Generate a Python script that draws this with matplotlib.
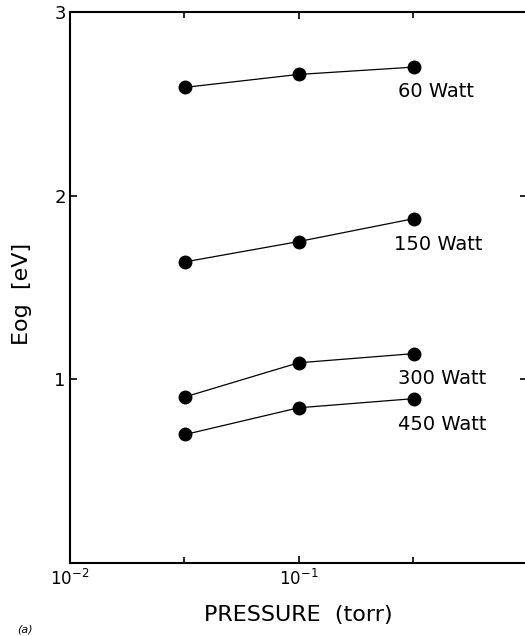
import matplotlib
matplotlib.use("Agg")
import matplotlib.pyplot as plt
import numpy as np
from matplotlib.ticker import FixedLocator, NullFormatter, FixedFormatter

# Eog vs. discharge pressure for several RF powers
pressure = [0.032, 0.1, 0.32]          # torr
powers = ['60 Watt', '150 Watt', '300 Watt', '450 Watt']
eog_60 = [2.59, 2.66, 2.70]
eog_150 = [1.64, 1.75, 1.875]
eog_300 = [0.905, 1.09, 1.14]
eog_450 = [0.70, 0.845, 0.895]
series = [eog_60, eog_150, eog_300, eog_450]

x_major = [0.01, 0.1, 1]
x_major_labels = [r'$10^{-2}$', r'$10^{-1}$', '']

# label offsets (pixels) from the last point of each curve
label_offsets = [(-16, -24), (-20, -26), (-16, -25), (-16, -26)]

fig = plt.figure(figsize=(5.25, 6.36), dpi=100)
ax = fig.add_axes([70 / 525, 73 / 636, 457 / 525, 551 / 636])

for vals, name, off in zip(series, powers, label_offsets):
    ax.plot(pressure, vals, '-o', color='black', lw=0.9, markersize=9)
    ax.annotate(name, (pressure[-1], vals[-1]), xytext=off,
                textcoords='offset pixels', ha='left', va='center',
                fontsize=14)

ax.set_xscale('log')
ax.set_xlim(0.01, 1)
ax.set_ylim(0, 3)

ax.xaxis.set_major_locator(FixedLocator(x_major))
ax.xaxis.set_major_formatter(FixedFormatter(x_major_labels))
ax.xaxis.set_minor_locator(FixedLocator([10 ** -1.5, 10 ** -0.5]))
ax.xaxis.set_minor_formatter(NullFormatter())
ax.set_yticks([1, 2, 3])

ax.tick_params(which='both', direction='in', top=True, right=True, width=1.2)
ax.tick_params(which='major', length=5)
ax.tick_params(which='minor', length=4)
ax.tick_params(axis='x', labelsize=12, pad=4)
ax.tick_params(axis='y', labelsize=13, pad=3)

for s in ax.spines.values():
    s.set_linewidth(1.5)

ax.set_xlabel('PRESSURE  (torr)', fontsize=16, labelpad=12)
fig.text(22 / 525, 1 - 294 / 636, 'Eog  [eV]', rotation=90, fontsize=16,
         ha='center', va='center')
fig.text(25 / 525, 0.002, '(a)', fontsize=8, ha='center', va='bottom',
         style='italic')

fig.savefig('out.png', dpi=100)
